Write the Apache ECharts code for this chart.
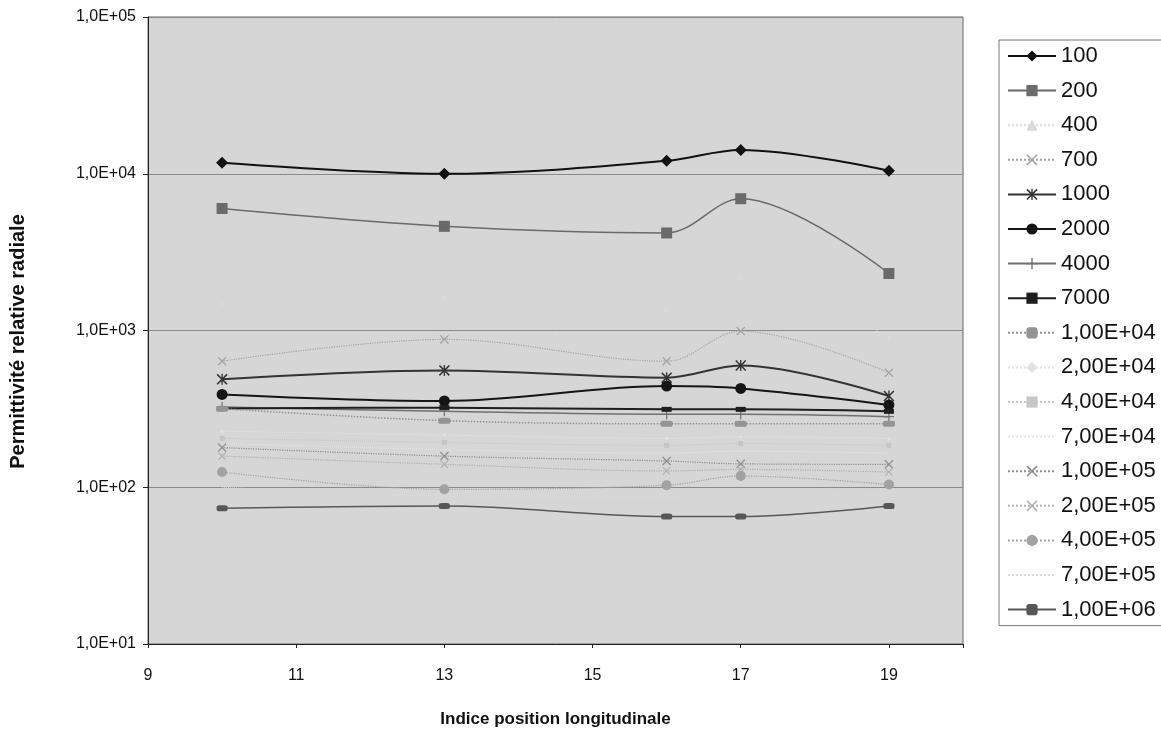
<!DOCTYPE html>
<html>
<head>
    <meta charset="utf-8">
    <title>Permittivité relative radiale</title>
    <script type="text/javascript" src="https://cdn.jsdelivr.net/npm/echarts@6/dist/echarts.min.js"></script>
    <style>
        body { margin: 0; background: #fff; }
        #root { width: 1161px; height: 733px; }
    </style>
</head>
<body>
<div id="root"></div>
<script type="text/javascript">
// position longitudinale (axe x)
var positions = [10, 13, 16, 17, 19];
var seriesNames = ['100', '200', '400', '700', '1000', '2000', '4000', '7000',
    '1,00E+04', '2,00E+04', '4,00E+04', '7,00E+04', '1,00E+05', '2,00E+05',
    '4,00E+05', '7,00E+05', '1,00E+06'];
var yTickLabels = ['1,0E+01', '1,0E+02', '1,0E+03', '1,0E+04', '1,0E+05'];

// permittivité, une liste par fréquence
var s100 = [11750, 10000, 12100, 14200, 10450];
var s200 = [6000, 4620, 4190, 6930, 2310];
var s400 = [1500, 1650, 1350, 2200, 900];
var s700 = [637, 877, 637, 991, 538];
var s1000 = [488, 556, 500, 598, 382];
var s2000 = [391, 355, 442, 427, 335];
var s4000 = [325, 305, 292, 292, 282];
var s7000 = [318, 322, 314, 314, 305];
var s1e4 = [317, 266, 254, 254, 254];
var s2e4 = [228, 215, 205, 210, 205];
var s4e4 = [205, 193, 185, 190, 185];
var s7e4 = [190, 174, 165, 170, 165];
var s1e5 = [179, 158, 147, 141, 140];
var s2e5 = [158, 140, 127, 130, 125];
var s4e5 = [125, 97, 103, 118, 104];
var s7e5 = [100, 88, 86, 92, 88];
var s1e6 = [73.5, 76, 65, 65, 76];

var allData = [s100, s200, s400, s700, s1000, s2000, s4000, s7000,
    s1e4, s2e4, s4e4, s7e4, s1e5, s2e5, s4e5, s7e5, s1e6];

var crossPath = 'path://M0,1L1,0L5,4L9,0L10,1L6,5L10,9L9,10L5,6L1,10L0,9L4,5Z';
var starPath = 'path://M0,1L1,0L5,4L9,0L10,1L6,5L10,9L9,10L5,6L1,10L0,9L4,5Z M4.4,0H5.6V10H4.4Z';
var plusPath = 'path://M4.4,0H5.6V10H4.4Z M0,4.4H10V5.6H0Z';

// style de chaque série (couleur, marqueur, taille, épaisseur, type de trait)
var looks = [
    ['#111111', 'diamond', 12, 2, 'solid'],
    ['#6a6a6a', 'rect', 11, 1.5, 'solid'],
    ['#dadada', 'triangle', 5, 1, 'dotted'],
    ['#a3a3a3', crossPath, 9, 1.2, 'dotted'],
    ['#333333', starPath, 11, 2, 'solid'],
    ['#151515', 'circle', 11, 2, 'solid'],
    ['#707070', plusPath, 10, 1.5, 'solid'],
    ['#1e1e1e', 'rect', [10, 5], 2, 'solid'],
    ['#949494', 'roundRect', [12, 6], 1.5, 'dotted'],
    ['#e2e2e2', 'diamond', 4, 1, 'dotted'],
    ['#c6c6c6', 'rect', 5, 1, 'dotted'],
    ['#e6e6e6', 'none', 0, 1, 'dotted'],
    ['#8e8e8e', crossPath, 9, 1.2, 'dotted'],
    ['#b0b0b0', crossPath, 8, 1.2, 'dotted'],
    ['#a2a2a2', 'circle', 10, 1.2, 'dotted'],
    ['#dcdcdc', 'none', 0, 1, 'dotted'],
    ['#575757', 'roundRect', [11, 6], 1.5, 'solid']
];

var series = [];
var legendData = [];
for (var i = 0; i < seriesNames.length; i++) {
    var lk = looks[i];
    series.push({
        name: seriesNames[i],
        type: 'line',
        smooth: 0.35,
        symbol: lk[1] === 'none' ? 'circle' : lk[1],
        symbolSize: lk[2],
        showSymbol: lk[1] !== 'none',
        data: positions.map(function (x, j) { return [x, allData[i][j]]; }),
        lineStyle: { color: lk[0], width: lk[3], type: lk[4] },
        itemStyle: { color: lk[0] }
    });
    // pas de marqueur dans la légende pour les séries sans marqueur
    legendData.push(lk[1] === 'none'
        ? { name: seriesNames[i], itemStyle: { color: 'rgba(0,0,0,0)', opacity: 0 } }
        : { name: seriesNames[i] });
}

var myChart = echarts.init(document.getElementById('root'));
var option = {
    animation: false,
    textStyle: { fontFamily: "Arial, 'Liberation Sans', sans-serif" },
    grid: {
        left: 148, right: 198, top: 17, bottom: 88,
        show: true,
        backgroundColor: '#d6d6d6',
        borderColor: '#666',
        borderWidth: 1
    },
    legend: {
        orient: 'vertical',
        left: 999,
        top: 40,
        data: legendData,
        itemWidth: 48,
        itemHeight: 14,
        itemGap: 12.6,
        padding: [5, 200, 5, 8],
        backgroundColor: '#fff',
        borderColor: '#777',
        borderWidth: 1,
        textStyle: { fontSize: 22, lineHeight: 22, color: '#111' }
    },
    xAxis: {
        type: 'value',
        min: 9,
        max: 20,
        interval: 2,
        name: 'Indice position longitudinale',
        nameLocation: 'middle',
        nameGap: 67,
        nameTextStyle: { fontSize: 17, fontWeight: 'bold', color: '#111' },
        axisLine: { lineStyle: { color: '#222' } },
        axisTick: { show: true, length: 4, lineStyle: { color: '#222' } },
        axisLabel: {
            fontSize: 16, color: '#111', margin: 24,
            formatter: function (v) { return v === 20 ? '' : String(v); }
        },
        splitLine: { show: false }
    },
    yAxis: {
        type: 'log',
        logBase: 10,
        min: 10,
        max: 100000,
        name: 'Permittivité relative radiale',
        nameLocation: 'middle',
        nameGap: 120,
        nameTextStyle: { fontSize: 20, fontWeight: 'bold', color: '#111', padding: [0, 22, 0, 0] },
        axisLine: { show: true, lineStyle: { color: '#222' } },
        axisTick: { show: true, length: 5, lineStyle: { color: '#222' } },
        axisLabel: {
            fontSize: 16, color: '#111', margin: 12,
            formatter: function (v) {
                return yTickLabels[Math.round(Math.log10(v)) - 1];
            }
        },
        splitLine: { show: true, lineStyle: { color: '#8a8a8a', width: 1 } }
    },
    series: series
};
myChart.setOption(option, true);
</script>
</body>
</html>
